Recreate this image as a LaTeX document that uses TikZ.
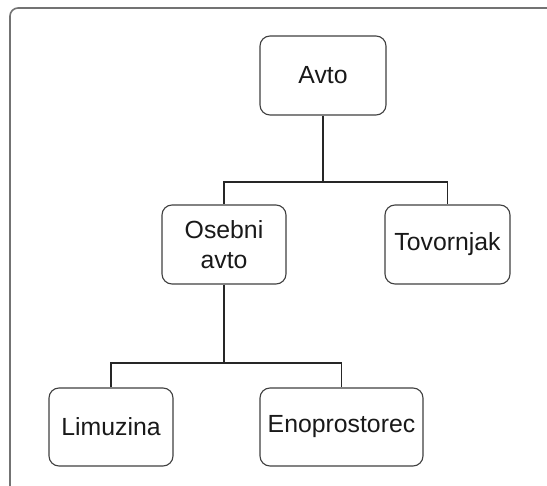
\documentclass[tikz,border=0pt]{standalone}
\usepackage{fontspec}
\setmainfont{Liberation Sans}
\begin{document}
\begin{tikzpicture}[x=1pt,y=-1pt,
  box/.style={draw=black!75, line width=1.1pt, rounded corners=10pt,
    fill=white, text=black!90, align=center, inner sep=0pt,
    font=\fontsize{24.8}{30}\selectfont},
  link/.style={draw=black!85, line width=1.3pt},
  frame/.style={draw=black!55, line width=1.6pt, rounded corners=8pt}]
  \useasboundingbox (0,0) rectangle (547,486);
  % outer panel border
  \draw[frame] (10,486) -- (10,8) -- (547,8);
  % tree nodes
  \node[box, minimum width=126pt, minimum height=79pt] (avto) at (323,75.5) {Avto};
  \node[box, minimum width=124pt, minimum height=79pt] (osebni) at (224,244.5) {Osebni\\avto};
  \node[box, minimum width=125pt, minimum height=79pt] (tovor) at (447.5,244.5) {Tovornjak};
  \node[box, minimum width=124pt, minimum height=78pt] (limo) at (111,427) {Limuzina};
  \node[box, minimum width=163pt, minimum height=78pt] (eno) at (341.5,427) {Enoprostorec};
  % branch bars
  \coordinate (bar1) at (323,182);
  \coordinate (bar2) at (224,363);
  \draw[link] (avto.south) -- (bar1);
  \draw[link] (osebni.north) |- (bar1) -| (tovor.north);
  \draw[link] (osebni.south) -- (bar2);
  \draw[link] (limo.north) |- (bar2) -| (eno.north);
\end{tikzpicture}
\end{document}
